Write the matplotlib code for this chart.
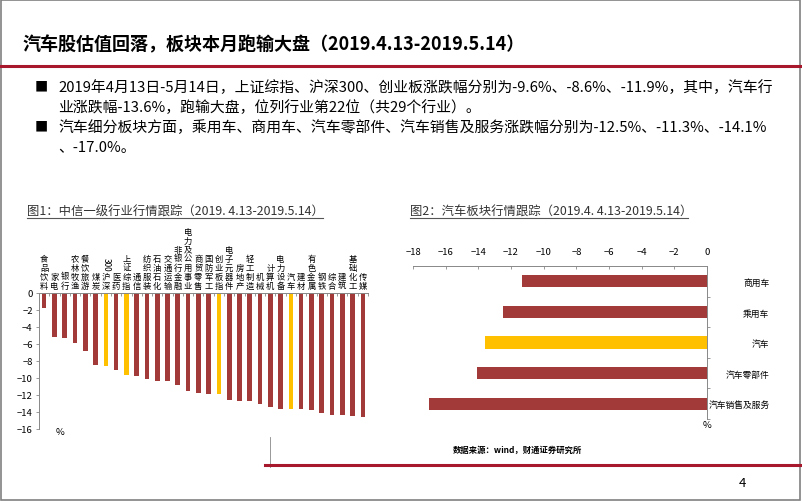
import matplotlib.pyplot as plt
from matplotlib.patches import Rectangle
from matplotlib.lines import Line2D
from matplotlib.ticker import FixedLocator

plt.rcParams['font.family'] = ['Liberation Sans Narrow', 'Noto Sans CJK SC', 'DejaVu Sans']

# chart 1: CITIC level-1 industries + indices
industries = ['食品饮料', '家电', '银行', '农林牧渔', '餐饮旅游', '煤炭', '沪深300', '医药',
              '上证综指', '通信', '纺织服装', '石油石化', '交通运输', '非银行金融',
              '电力及公用事业', '商贸零售', '国防军工', '创业板指', '电子元器件', '房地产',
              '轻工制造', '机械', '计算机', '电力设备', '汽车', '建材', '有色金属', '钢铁',
              '综合', '建筑', '基础化工', '传媒']
changes = [-1.8, -5.2, -5.3, -5.9, -6.8, -8.5, -8.6, -9.0, -9.6, -9.8, -10.1, -10.3,
           -10.3, -10.8, -11.5, -11.8, -11.9, -11.9, -12.6, -12.7, -12.7, -13.0, -13.4,
           -13.6, -13.6, -13.6, -13.8, -14.1, -14.3, -14.4, -14.5, -14.6]
highlight = ['沪深300', '上证综指', '创业板指', '汽车']

# chart 2: auto sub-sectors
sectors = ['商用车', '乘用车', '汽车', '汽车零部件', '汽车销售及服务']
sector_changes = [-11.3, -12.5, -13.6, -14.1, -17.0]

RED = '#A23A3A'
YELLOW = '#FFC000'
LINE_RED = '#A8182C'
W, H = 802, 502

fig = plt.figure(figsize=(8.02, 5.02), dpi=100)


def fx(x):
    return x / W


def fy(y):
    return 1 - y / H


def ptext(x, y, s, **kw):
    fig.text(fx(x), fy(y), s, **kw)


def pline(x0, x1, y0, y1, **kw):
    fig.add_artist(Line2D([fx(x0), fx(x1)], [fy(y0), fy(y1)], **kw))


# frame and header
fig.add_artist(Rectangle((0.001, 0.002), 0.997, 0.996, fill=False, ec='#808080', lw=1.2,
                         transform=fig.transFigure))
ptext(22, 45, '汽车股估值回落，板块本月跑输大盘（2019.4.13-2019.5.14）', fontsize=13,
      fontweight='bold', va='center')
pline(0, W, 67, 67, color=LINE_RED, lw=2.2)

# bullet text
bullets = [
    (88, '■', '2019年4月13日-5月14日，上证综指、沪深300、创业板涨跌幅分别为-9.6%、-8.6%、-11.9%，其中，汽车行'),
    (108, None, '业涨跌幅-13.6%，跑输大盘，位列行业第22位（共29个行业）。'),
    (128, '■', '汽车细分板块方面，乘用车、商用车、汽车零部件、汽车销售及服务涨跌幅分别为-12.5%、-11.3%、-14.1%'),
    (148, None, '、-17.0%。'),
]
for y, mark, s in bullets:
    if mark:
        ptext(35, y, mark, fontsize=9.5, va='center')
    ptext(58, y, s, fontsize=10.7, va='center')

# chart titles
ptext(27, 212, '图1：中信一级行业行情跟踪（2019. 4.13-2019.5.14）', fontsize=8.9, va='center',
      color='#333333')
pline(27, 323, 219, 219, color='#555555', lw=0.8)
ptext(410, 212, '图2：汽车板块行情跟踪（2019.4. 4.13-2019.5.14）', fontsize=8.9, va='center',
      color='#333333')
pline(410, 688, 219, 219, color='#555555', lw=0.8)

# ---- chart 1
ax1 = fig.add_axes([fx(39), fy(430), fx(329), 136 / H])
x = list(range(len(industries)))
colors = [YELLOW if n in highlight else RED for n in industries]
ax1.bar(x, changes, width=0.45, color=colors)
ax1.set_xlim(-0.5, len(industries) - 0.5)
ax1.set_ylim(-16, 0)
ax1.set_yticks(range(-16, 1, 2))
ax1.tick_params(axis='y', labelsize=6.8, length=2.5, width=0.6, color='#888888', pad=2)
ax1.xaxis.tick_top()
ax1.set_xticks(x)

# stacked vertical labels; digit runs are drawn rotated above the stack
char_pt = 6.0
labels = []
for i, n in enumerate(industries):
    cjk = ''.join(c for c in n if not c.isdigit())
    digits = ''.join(c for c in n if c.isdigit())
    labels.append('\n'.join(cjk))
    if digits:
        ax1.annotate(digits, xy=(i, 1), xycoords=('data', 'axes fraction'),
                     xytext=(0, 2.5 + len(cjk) * char_pt * 1.12), textcoords='offset points',
                     rotation=-90, ha='center', va='bottom', fontsize=char_pt)
ax1.set_xticklabels(labels, fontsize=char_pt, linespacing=1.0)
ax1.tick_params(axis='x', which='major', length=0, pad=2.5)
ax1.xaxis.set_minor_locator(FixedLocator([i + 0.5 for i in x]))
ax1.tick_params(axis='x', which='minor', direction='in', length=2.5, width=0.6,
                color='#888888', top=True, bottom=False)
for s in ['right', 'bottom']:
    ax1.spines[s].set_visible(False)
for s in ['left', 'top']:
    ax1.spines[s].set_color('#888888')
    ax1.spines[s].set_linewidth(0.7)
ptext(56, 433, '%', fontsize=6.8, va='center')

# ---- chart 2
ax2 = fig.add_axes([fx(413), fy(420), fx(294), 153 / H])
y = list(range(len(sectors)))
colors2 = [YELLOW if s == '汽车' else RED for s in sectors]
ax2.barh(y, sector_changes, height=0.4, color=colors2)
ax2.set_xlim(-18, 0)
ax2.set_ylim(len(sectors) - 0.5, -0.5)
ax2.xaxis.tick_top()
ax2.set_xticks(range(-18, 1, 2))
ax2.tick_params(axis='x', labelsize=6.8, direction='in', length=2.5, width=0.6,
                color='#888888', pad=7)
ax2.yaxis.tick_right()
ax2.set_yticks(y)
ax2.set_yticklabels(sectors, fontsize=6.3, ha='right')
ax2.tick_params(axis='y', which='major', length=0, pad=45)
ax2.yaxis.set_minor_locator(FixedLocator([i + 0.5 for i in y]))
ax2.tick_params(axis='y', which='minor', direction='out', length=2.5, width=0.6,
                color='#888888', right=True, left=False)
for s in ['left', 'bottom']:
    ax2.spines[s].set_visible(False)
for s in ['right', 'top']:
    ax2.spines[s].set_color('#888888')
    ax2.spines[s].set_linewidth(0.7)
ptext(707, 425, '%', fontsize=6.8, va='center', ha='center')

# footer
ptext(453, 450, '数据来源：wind，财通证券研究所', fontsize=6, fontweight='bold', va='center')
pline(270, 270, 438, 468, color='#888888', lw=0.6)
pline(265, W, 466, 466, color=LINE_RED, lw=2.2)
ptext(742, 484, '4', fontsize=9.5, va='center', ha='center')

fig.savefig('out.png', dpi=100)
